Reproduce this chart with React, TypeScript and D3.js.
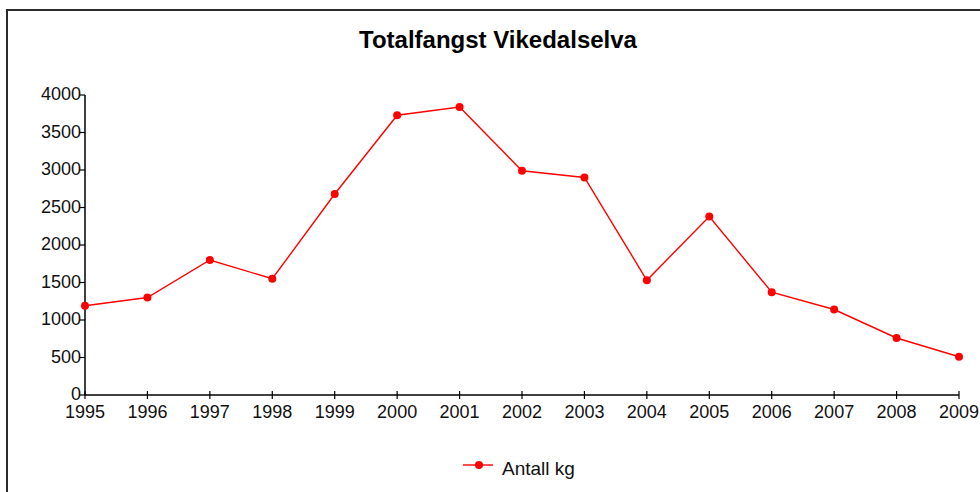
import React from 'react'
import * as d3 from 'd3'

// Totalfangst Vikedalselva, kg per year
const years = [1995, 1996, 1997, 1998, 1999, 2000, 2001, 2002, 2003, 2004, 2005, 2006, 2007, 2008, 2009]
const antallKg = [1190, 1300, 1800, 1550, 2680, 3730, 3840, 2990, 2900, 1530, 2380, 1370, 1140, 760, 510]
const yTicks = [0, 500, 1000, 1500, 2000, 2500, 3000, 3500, 4000]
const title = 'Totalfangst Vikedalselva'
const seriesName = 'Antall kg'

const W = 980
const H = 492
const font = '"Liberation Sans", Arial, sans-serif'

export default function App() {
	const x = d3.scaleLinear().domain([1995, 2009]).range([85, 959])
	const y = d3.scaleLinear().domain([0, 4000]).range([395, 95])

	const line = d3.line<number>()
		.x((d, i) => x(years[i]))
		.y(d => y(d))

	return (
		<svg width={W} height={H} style={{ position: 'absolute', left: 0, top: 0, background: '#fff' }}>
			{/* frame */}
			<rect x={7} y={10} width={W} height={H} fill="#fff" stroke="#2b2b2b" strokeWidth={2} />

			<text x={498} y={48} textAnchor="middle" fontFamily={font} fontWeight="bold" fontSize={24} fill="#000">
				{title}
			</text>

			{/* y axis */}
			<line x1={x(1995)} x2={x(1995)} y1={y(4000)} y2={y(0)} stroke="#000" strokeWidth={1.5} />
			{yTicks.map(t => (
				<g key={t}>
					<line x1={x(1995) - 6} x2={x(1995)} y1={y(t)} y2={y(t)} stroke="#000" strokeWidth={1.2} />
					<text x={81} y={y(t) - 1} dy="0.36em" textAnchor="end" fontFamily={font} fontSize={18} fill="#111">
						{t}
					</text>
				</g>
			))}

			{/* x axis */}
			<line x1={x(1995)} x2={x(2009)} y1={y(0)} y2={y(0)} stroke="#000" strokeWidth={1.5} />
			{years.map(yr => (
				<g key={yr}>
					<line x1={x(yr)} x2={x(yr)} y1={y(0) - 4} y2={y(0) + 4} stroke="#000" strokeWidth={1.2} />
					<text x={x(yr)} y={418} textAnchor="middle" fontFamily={font} fontSize={18} fill="#111">
						{yr}
					</text>
				</g>
			))}

			{/* series */}
			<path d={line(antallKg) || ''} fill="none" stroke="#ff0000" strokeWidth={1.4} />
			{antallKg.map((v, i) => (
				<circle key={i} cx={x(years[i])} cy={y(v)} r={4} fill="#ff0000" />
			))}

			{/* legend */}
			<line x1={463} x2={493} y1={465} y2={465} stroke="#ff0000" strokeWidth={1.4} />
			<circle cx={479} cy={465} r={4} fill="#ff0000" />
			<text x={502} y={475} fontFamily={font} fontSize={19} fill="#111">
				{seriesName}
			</text>
		</svg>
	)
}
